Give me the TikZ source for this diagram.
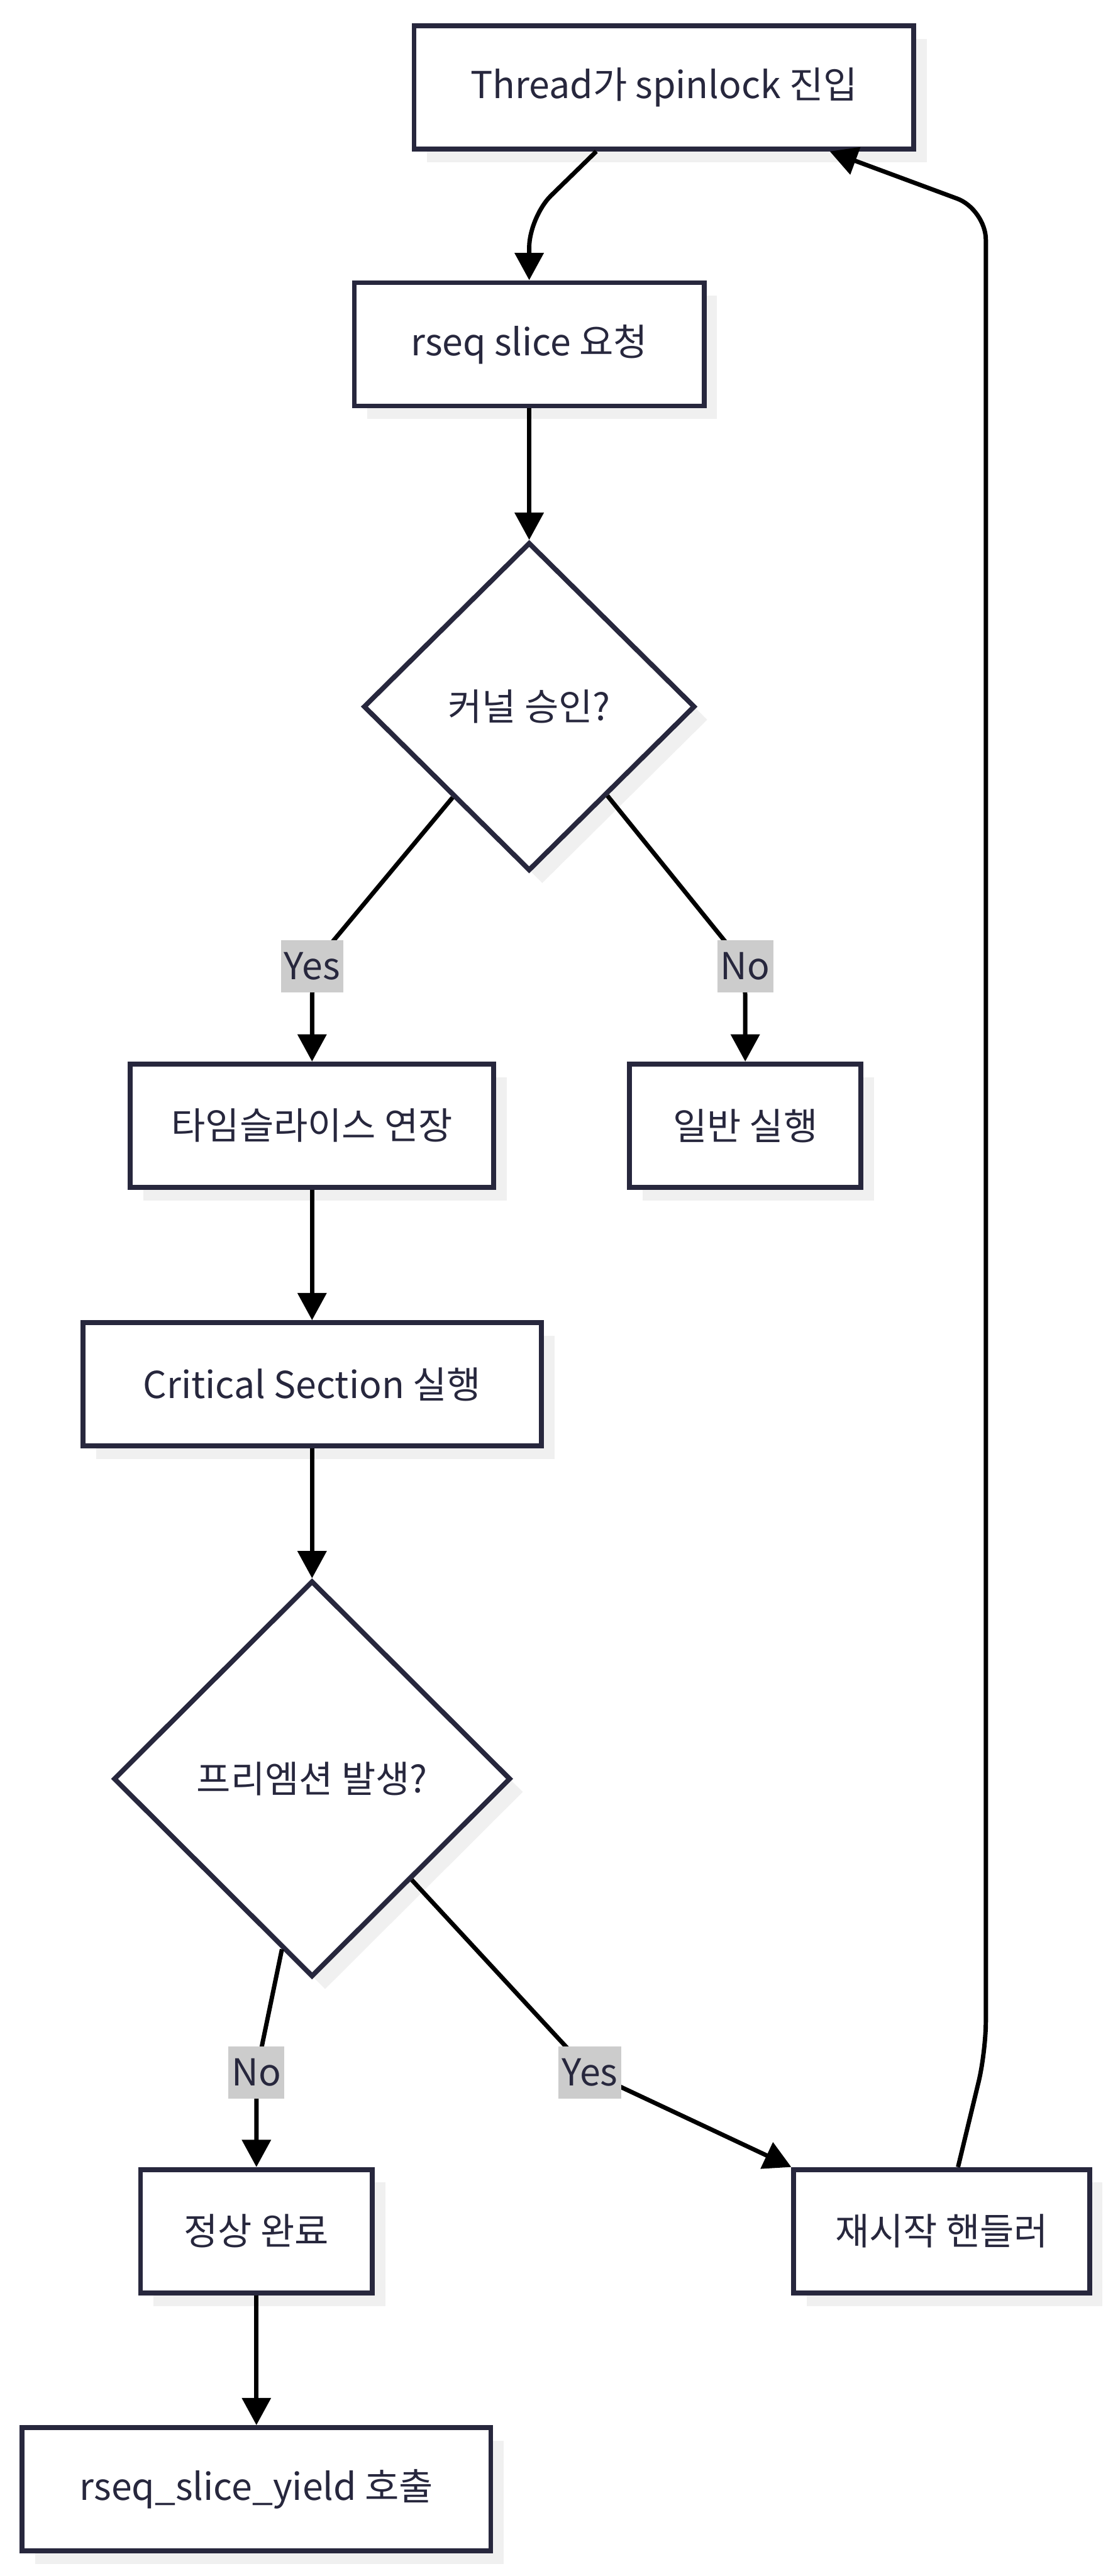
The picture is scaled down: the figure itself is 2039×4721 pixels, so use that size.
\documentclass[tikz,border=0pt]{standalone}
\usepackage{fontspec}
\setmainfont{Noto Sans CJK KR}
\usepackage{xcolor}
\usepackage{tikz}
\usetikzlibrary{shapes.geometric, arrows.meta, calc, shadows}
\definecolor{RSQInk}{RGB}{39, 39, 61}
\definecolor{RSQShadow}{RGB}{240, 240, 240}
\definecolor{RSQLabel}{RGB}{204, 204, 204}

\tikzset{
  boxshadow/.style={drop shadow={shadow xshift=12pt, shadow yshift=-12pt, fill=RSQShadow, opacity=1}},
  procbox/.style={rectangle, draw=RSQInk, line width=4.5pt, fill=white, text=RSQInk,
    minimum height=113pt, inner sep=0pt, font=\fontsize{34}{40}\selectfont, boxshadow},
  decision/.style={diamond, draw=RSQInk, line width=4.5pt, fill=white, text=RSQInk,
    inner sep=0pt, font=\fontsize{34}{40}\selectfont, boxshadow},
  flow/.style={draw=black, line width=4pt, rounded corners=28pt,
    -{Triangle[length=25pt, width=26pt]}},
  edgelbl/.style={fill=RSQLabel, text=RSQInk, inner xsep=3pt, inner ysep=0pt,
    minimum height=48pt, font=\fontsize{34}{40}\selectfont}
}

\begin{document}
\begin{tikzpicture}[x=0.5pt, y=0.5pt]
  \useasboundingbox (0,0) rectangle (2039,-4721);
  \fill[white] (0,0) rectangle (2039,-4721);

  \node[procbox, minimum width=458pt] (A) at (1217,-160) {Thread가 spinlock 진입};
  \node[procbox, minimum width=320.5pt] (B) at (970,-631) {rseq slice 요청};
  \node[decision, minimum width=304pt, minimum height=301pt] (C) at (970,-1295) {커널 승인?};
  \node[procbox, minimum width=333pt] (D) at (572,-2063) {타임슬라이스 연장};
  \node[procbox, minimum width=212pt] (E) at (1366,-2063) {일반 실행};
  \node[procbox, minimum width=420pt] (F) at (572,-2537) {Critical Section 실행};
  \node[decision, minimum width=364pt, minimum height=363pt] (G) at (572,-3260) {프리엠션 발생?};
  \node[procbox, minimum width=212.5pt] (H) at (470,-4089) {정상 완료};
  \node[procbox, minimum width=271pt] (I) at (1726,-4089) {재시작 핸들러};
  \node[procbox, minimum width=429.5pt] (J) at (470,-4562) {rseq\_slice\_yield 호출};

  \coordinate (yesC) at (572,-1771);
  \coordinate (noC) at (1366,-1771);
  \coordinate (noG) at (470,-3798);
  \coordinate (yesG) at (1081,-3798);

  \draw[flow] ($(A.south)+(-124,0)$) -- ($(B.north)+(0,116)$) -- (B.north);
  \draw[flow] (B) -- (C);
  \draw[flow] ($(C.west)!0.545!(C.south)$) -- (yesC) -- (D.north);
  \draw[flow] ($(C.east)!0.535!(C.south)$) -- (noC) -- (E.north);
  \draw[flow] (D) -- (F);
  \draw[flow] (F) -- (G);
  \draw[flow] ($(G.west)!0.85!(G.south)$) -- (noG) -- (H.north);
  \draw[flow] ($(G.east)!0.504!(G.south)$) -- (yesG) -- (I.north west);
  \draw[flow] (H) -- (J);
  \draw[flow] ($(I.north)+(30,0)$) -- ++(51,211) -- ++(0,3377) -- ($(A.south)+(304,0)$);

  \node[edgelbl] (yesClbl) at (yesC) {Yes};
  \node[edgelbl] (noClbl) at (noC) {No};
  \node[edgelbl] (noGlbl) at (noG) {No};
  \node[edgelbl] (yesGlbl) at (yesG) {Yes};
\end{tikzpicture}
\end{document}
